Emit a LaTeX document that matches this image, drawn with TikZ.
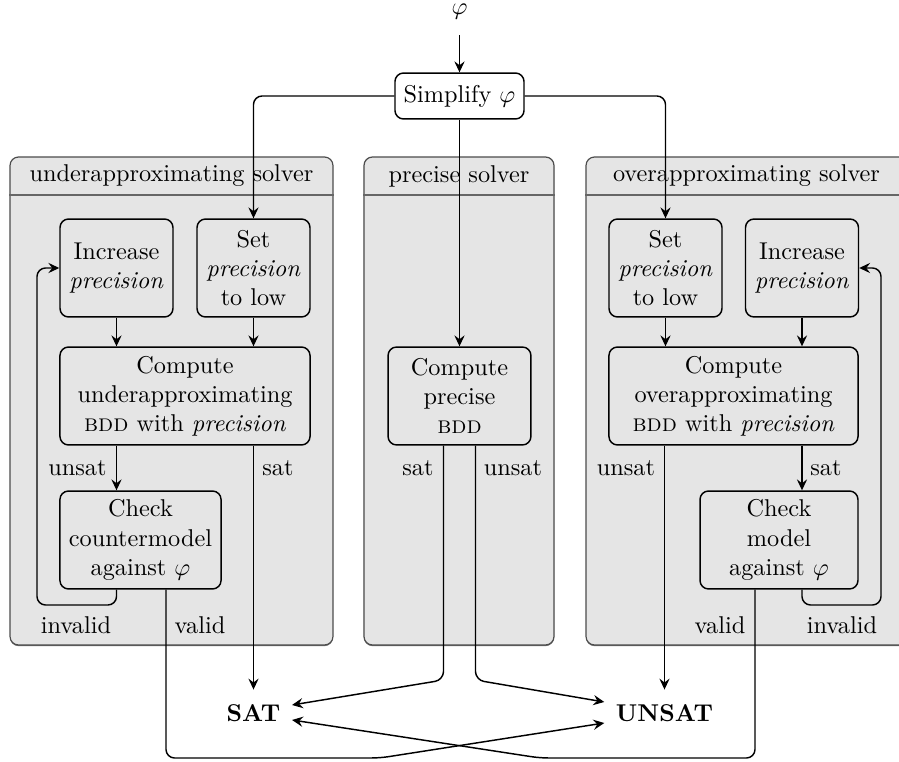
\documentclass[tikz,border=0pt]{standalone}
\usetikzlibrary{arrows.meta,calc,shadows}
\begin{document}
\tikzset{
  px/.style={x=0.4115pt,y=-0.4115pt},
  panel/.style={draw=black!70, line width=0.5pt, fill=black!10, rounded corners=3.5pt,
    drop shadow={shadow xshift=0pt, shadow yshift=-0.5pt, fill=black!55, opacity=1}},
  panelline/.style={draw=black!60, line width=0.5pt},
  box/.style={draw, semithick, rounded corners=3.5pt, align=center, inner sep=1pt, fill=black!10},
  arr/.style={semithick, -{Stealth[length=4.5pt,width=4.2pt,inset=1.6pt]}},
  rc/.style={rounded corners=3.5pt},
  res/.style={font=\bfseries, minimum height=18.9pt, inner xsep=4.6pt},
}
\begin{tikzpicture}[px]
\useasboundingbox (0,0) rectangle (899,762);
\clip (0,0) rectangle (899,762);
% panels
\node[panel, minimum width=132.9pt, minimum height=200.8pt] (pl) at (171.5,401) {};
\node[panel, minimum width=78.2pt, minimum height=200.8pt] (pm) at (459,401) {};
\node[panel, minimum width=132.9pt, minimum height=200.8pt] (pr) at (747.5,401) {};
\coordinate (hy) at (0,195);
\draw[panelline] (pl.west |- hy) -- (pl.east |- hy);
\draw[panelline] (pm.west |- hy) -- (pm.east |- hy);
\draw[panelline] (pr.west |- hy) -- (pr.east |- hy);
\node (tl) at (171.5,176) {underapproximating solver};
\node (tm) at (459,176) {precise solver};
\node (tr) at (746.5,176) {overapproximating solver};
% top
\node[anchor=base, inner sep=0pt, text depth=8.2pt] (phi) at (459.5,15) {$\varphi$};
\node[box, fill=white, minimum width=53.1pt, minimum height=18.9pt] (simp) at (459.5,96) {Simplify $\varphi$};
% left panel
\node[box, minimum width=46.5pt, minimum height=40.3pt] (inc1) at (116.5,268) {Increase\\\textit{precision}};
\node[box, minimum width=46.5pt, minimum height=40.3pt] (set1) at (253.5,268) {Set\\\textit{precision}\\to low};
\node[box, minimum width=102.9pt, minimum height=40.3pt] (comp1) at (185,396) {Compute\\underapproximating\\\textsc{bdd} with \textit{precision}};
\node[box, minimum width=66.3pt, minimum height=40.3pt] (chk1) at (140.5,540) {Check\\countermodel\\against $\varphi$};
% middle panel
\node[box, minimum width=58.8pt, minimum height=40.3pt] (comp2) at (459.5,396) {Compute\\precise\\\textsc{bdd}};
% right panel
\node[box, minimum width=46.5pt, minimum height=40.3pt] (set2) at (665.5,268) {Set\\\textit{precision}\\to low};
\node[box, minimum width=46.5pt, minimum height=40.3pt] (inc2) at (802,268) {Increase\\\textit{precision}};
\node[box, minimum width=102.5pt, minimum height=40.3pt] (comp3) at (733.5,396) {Compute\\overapproximating\\\textsc{bdd} with \textit{precision}};
\node[box, minimum width=65pt, minimum height=40.3pt] (chk3) at (779,540) {Check\\model\\against $\varphi$};
% results
\node[res] (SAT) at (253.5,713) {SAT};
\node[res] (UNSAT) at (664.5,713) {UNSAT};
% helper coordinates
\coordinate (lp1) at (37,605);
\coordinate (lp2) at (881,605);
\coordinate (bl) at (380,758);
\coordinate (br) at (540,758);
\coordinate (cl) at (443.5,680);
\coordinate (cr) at (475.5,680);
% connectors top
\draw[arr] (phi) -- (simp);
\draw[arr, rc] (simp.west) -| (set1.north);
\draw[arr, rc] (simp.east) -| (set2.north);
\draw[arr] (simp) -- (comp2);
% left connectors
\draw[arr] (inc1) -- (inc1 |- comp1.north);
\draw[arr] (set1) -- (set1 |- comp1.north);
\draw[arr] (comp1.south -| inc1) -- (chk1.north -| inc1);
\draw[arr] (comp1.south -| SAT) -- (SAT.north);
\draw[arr, rc] (chk1.south -| inc1) |- (lp1) |- (inc1.west);
\draw[arr, rc] ($(chk1.south)+(25.5,0)$) |- (bl) -- ($(UNSAT.west)+(0,10)$);
% middle connectors
\draw[arr, rc] ($(comp2.south)+(-16,0)$) -- (cl) -- ($(SAT.east)+(0,-8)$);
\draw[arr, rc] ($(comp2.south)+(16,0)$) -- (cr) -- ($(UNSAT.west)+(0,-11)$);
% right connectors
\draw[arr] (set2) -- (set2 |- comp3.north);
\draw[arr] (inc2) -- (inc2 |- comp3.north);
\draw[arr] (comp3.south -| inc2) -- (chk3.north -| inc2);
\draw[arr] (comp3.south -| UNSAT) -- (UNSAT.north);
\draw[arr, rc] (chk3.south -| inc2) |- (lp2) |- (inc2.east);
\draw[arr, rc] ($(chk3.south)+(-24,0)$) |- (br) -- ($(SAT.east)+(0,7)$);
% labels
\node (lu1) at (77.5,468) {unsat};
\node (ls1) at (278,468) {sat};
\node (ls2) at (418,468) {sat};
\node (lu2) at (513,468) {unsat};
\node (lu3) at (626,468) {unsat};
\node (ls3) at (826,468) {sat};
\node (li1) at (76,625) {invalid};
\node (lv1) at (200,625) {valid};
\node (lv3) at (720,625) {valid};
\node (li3) at (842,625) {invalid};
\end{tikzpicture}
\end{document}
